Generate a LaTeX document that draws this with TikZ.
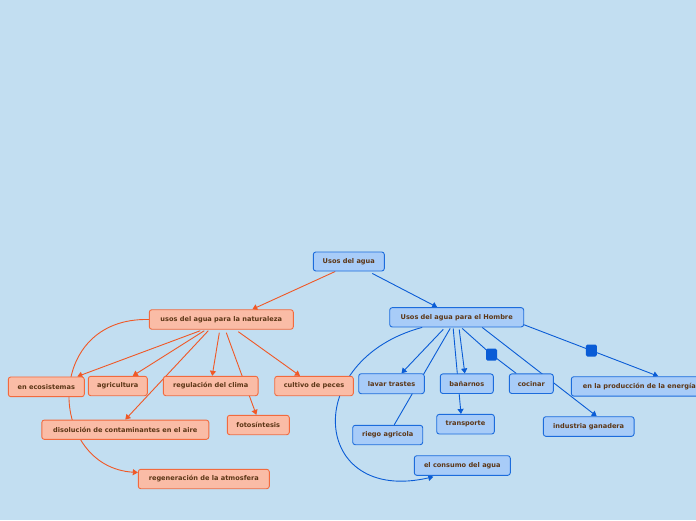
\documentclass[tikz,border=0pt]{standalone}
\usepackage{fontspec}
\setmainfont{DejaVu Sans}
\usetikzlibrary{arrows.meta}
\definecolor{bg}{RGB}{194,222,241}
\definecolor{ofill}{RGB}{250,188,166}
\definecolor{oborder}{RGB}{242,106,62}
\definecolor{oline}{RGB}{240,88,38}
\definecolor{bfill}{RGB}{168,204,248}
\definecolor{bborder}{RGB}{28,108,220}
\definecolor{bline}{RGB}{10,92,214}
\definecolor{txt}{RGB}{92,54,22}
\pgfdeclarelayer{bgl}
\pgfdeclarelayer{edges}
\pgfsetlayers{bgl,edges,main}
\begin{document}
\begin{tikzpicture}[x=1pt,y=-1pt,
  box/.style={rounded corners=2.5pt, line width=0.9pt, inner sep=0pt,
    font=\bfseries\fontsize{6.6}{8}\selectfont, text=txt},
  on/.style={box, draw=oborder, fill=ofill},
  bn/.style={box, draw=bborder, fill=bfill},
  oe/.style={draw=oline, line width=0.9pt},
  be/.style={draw=bline, line width=0.9pt},
  tip/.style={-{Triangle[length=5pt,width=6pt]}},
  marker/.style={fill=bline, rounded corners=1.5pt, minimum width=11pt,
    minimum height=12pt, inner sep=0pt}
]
\begin{pgfonlayer}{bgl}
\fill[bg] (0,0) rectangle (696,520);
\end{pgfonlayer}
\useasboundingbox (0,0) rectangle (696,520);

% nodes
\node[bn, minimum width=71pt, minimum height=19pt] (usos) at (348.8,261.5) {Usos del agua};
\node[on, minimum width=144pt, minimum height=19.5pt] (nat) at (221.3,319.5) {usos del agua para la naturaleza};
\node[bn, minimum width=134pt, minimum height=19.3pt] (hom) at (456.7,317.3) {Usos del agua para el Hombre};

\node[on, minimum width=76pt, minimum height=19.7pt] (eco) at (46.3,386.8) {en ecosistemas};
\node[on, minimum width=59pt, minimum height=19.4pt] (agr) at (117.8,386) {agricultura};
\node[on, minimum width=94.7pt, minimum height=19.4pt] (reg) at (210.7,386) {regulación del clima};
\node[on, minimum width=78.6pt, minimum height=19.4pt] (pec) at (314,386) {cultivo de peces};
\node[on, minimum width=62pt, minimum height=19.4pt] (fot) at (258.3,425) {fotosíntesis};
\node[on, minimum width=167pt, minimum height=19.3pt] (dis) at (125.3,429.7) {disolución de contaminantes en el aire};
\node[on, minimum width=131pt, minimum height=19.4pt] (rgn) at (203.8,479) {regeneración de la atmosfera};

\node[bn, minimum width=65.6pt, minimum height=20pt] (lav) at (391.5,383.7) {lavar trastes};
\node[bn, minimum width=53pt, minimum height=19.6pt] (ban) at (466.8,383.7) {bañarnos};
\node[bn, minimum width=44pt, minimum height=19.6pt] (coc) at (531.3,383.7) {cocinar};
\node[bn, minimum width=136pt, minimum height=19.4pt] (ene) at (639.3,386.4) {en la producción de la energía};
\node[bn, minimum width=70pt, minimum height=19.4pt] (rie) at (387.7,435) {riego agricola};
\node[bn, minimum width=57.6pt, minimum height=19.6pt] (tra) at (465.5,424.2) {transporte};
\node[bn, minimum width=90.7pt, minimum height=19.6pt] (ind) at (588.7,426.5) {industria ganadera};
\node[bn, minimum width=96pt, minimum height=19.6pt] (con) at (462.3,465.5) {el consumo del agua};

\node[marker] (m1) at (491.5,354.5) {};
\node[marker] (m2) at (591.3,350.5) {};

\begin{pgfonlayer}{edges}
% orange
\draw[oe,tip] ([xshift=-13.5pt]usos.south) -- ([xshift=31pt]nat.north);
\draw[oe,tip] ([xshift=-21pt,yshift=-1pt]nat.south) -- ([xshift=31pt]eco.north);
\draw[oe,tip] ([xshift=-17pt,yshift=-1pt]nat.south) -- ([xshift=15pt]agr.north);
\draw[oe,tip] ([xshift=-13pt,yshift=-1pt]nat.south) -- (dis.north);
\draw[oe,tip] ([xshift=-2pt,yshift=-3pt]nat.south) -- ([xshift=1.5pt]reg.north);
\draw[oe,tip] ([xshift=5pt,yshift=-3pt]nat.south) -- ([xshift=-2pt]fot.north);
\draw[oe,tip] ([xshift=17pt,yshift=-2pt]nat.south) -- ([xshift=-14pt]pec.north);
\draw[oe,tip] (nat.west) .. controls (42,317) and (48,467) .. ([yshift=6.5pt]rgn.west);
% blue
\draw[be,tip] ([xshift=23.5pt,yshift=-2pt]usos.south) -- ([xshift=-19.5pt]hom.north);
\draw[be,tip] ([xshift=-13.5pt,yshift=-2pt]hom.south) -- ([xshift=10pt]lav.north);
\draw[be] ([xshift=-6.5pt,yshift=-1pt]hom.south) -- ([xshift=6.5pt]rie.north);
\draw[be,tip] ([xshift=-3.5pt,yshift=-1pt]hom.south) -- ([xshift=-4.5pt]tra.north);
\draw[be,tip] ([xshift=2.5pt,yshift=-2pt]hom.south) -- ([xshift=-2pt]ban.north);
\draw[be] ([xshift=5.5pt,yshift=-1pt]hom.south) -- (m1.center) -- ([xshift=-15pt]coc.north);
\draw[be,tip] ([xshift=25.5pt]hom.south) -- ([xshift=8pt]ind.north);
\draw[be,tip] ([yshift=-7.5pt]hom.east) -- (m2.center) -- ([xshift=19pt]ene.north);
\draw[be,tip] ([xshift=-34.5pt]hom.south) .. controls (300,360) and (311,505) .. ([xshift=-29pt,yshift=-1pt]con.south);
\end{pgfonlayer}
\end{tikzpicture}
\end{document}
